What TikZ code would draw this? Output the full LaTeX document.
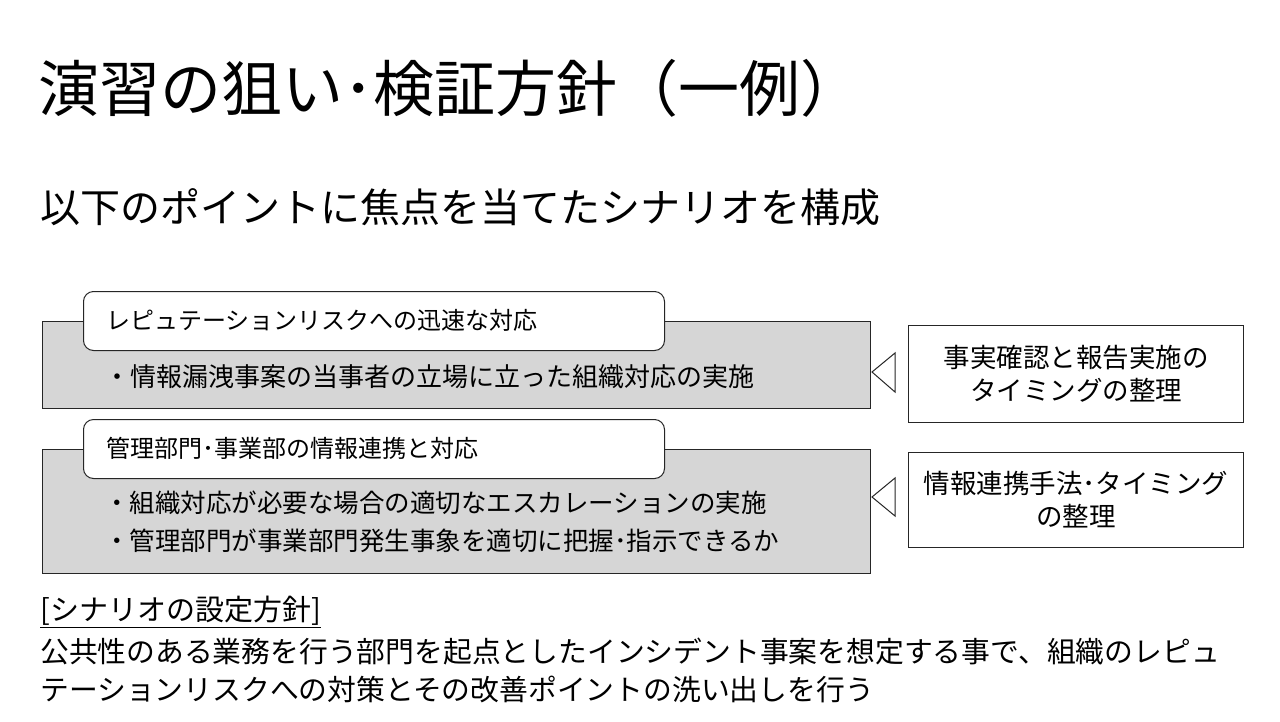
\documentclass[tikz,border=0pt]{standalone}
\usepackage{fontspec}
\setmainfont{Noto Sans CJK JP}
\begin{document}
\begin{tikzpicture}[x=1pt,y=-1pt,
  graybox/.style={draw=black!85, fill=black!16, line width=1pt, anchor=north west, inner sep=0pt, minimum width=828pt},
  headbox/.style={draw=black!85, fill=white, line width=1pt, rounded corners=10pt, anchor=north west, inner sep=0pt, minimum width=581pt, minimum height=59pt},
  sidebox/.style={draw=black!85, fill=white, line width=1pt, anchor=north west, inner sep=0pt, minimum width=335pt},
  txt/.style={anchor=west, inner sep=0pt, text=black},
  sidetxt/.style={align=center, inner sep=0pt, font=\fontsize{26.5}{33}\selectfont},
  tri/.style={draw=black!85, fill=white, line width=1pt, line join=miter}
]
\useasboundingbox (0,0) rectangle (1280,721);
\fill[white] (0,0) rectangle (1280,721);

% title
\node[txt, font=\fontsize{61}{72}\selectfont] (title) at (38,88) {演習の狙い･検証方針（一例）};
\node[txt, font=\fontsize{40}{48}\selectfont] (sub) at (40,207) {以下のポイントに焦点を当てたシナリオを構成};

% group 1
\node[graybox, minimum height=87pt] (g1) at (42,321) {};
\node[headbox] (h1) at (83,291) {};
\node[txt, font=\fontsize{24}{30}\selectfont] (h1t) at (106,320) {レピュテーションリスクへの迅速な対応};
\node[txt, font=\fontsize{26}{32}\selectfont] (b1) at (104,377) {・情報漏洩事案の当事者の立場に立った組織対応の実施};

% group 2
\node[graybox, minimum height=124pt] (g2) at (42,449) {};
\node[headbox] (h2) at (83,419) {};
\node[txt, font=\fontsize{24}{30}\selectfont] (h2t) at (106,448) {管理部門･事業部の情報連携と対応};
\node[txt, font=\fontsize{25.5}{32}\selectfont] (b2) at (104,503) {・組織対応が必要な場合の適切なエスカレーションの実施};
\node[txt, font=\fontsize{25.5}{32}\selectfont] (b3) at (104,541) {・管理部門が事業部門発生事象を適切に把握･指示できるか};

% side boxes
\node[sidebox, minimum height=97pt] (s1) at (908,325) {};
\node[sidetxt] (s1t) at (s1.center) {事実確認と報告実施の\\タイミングの整理};
\node[sidebox, minimum height=95pt] (s2) at (908,452) {};
\node[sidetxt] (s2t) at (s2.center) {情報連携手法･タイミング\\の整理};

% triangles
\draw[tri] (872,372) -- (895,353) -- (895,392) -- cycle;
\draw[tri] (872,497) -- (895,478) -- (895,516) -- cycle;

% bottom text
\node[txt, font=\fontsize{29}{34}\selectfont] (pol) at (40,612) {\underline{[シナリオの設定方針]}};
\node[txt, font=\fontsize{28.8}{34}\selectfont] (l1) at (40,651) {公共性のある業務を行う部門を起点としたインシデント事案を想定する事で、組織のレピュ};
\node[txt, font=\fontsize{28.8}{34}\selectfont] (l2) at (40,689) {テーションリスクへの対策とその改善ポイントの洗い出しを行う};
\end{tikzpicture}
\end{document}
